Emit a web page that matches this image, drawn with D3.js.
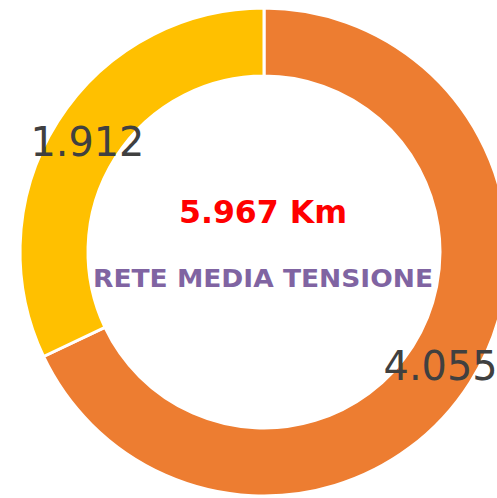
<!DOCTYPE html>
<html>
<head>
<meta charset="utf-8">
<script src="https://cdn.jsdelivr.net/npm/d3@7"></script>
<style>
  body { margin: 0; background: #fff; }
  svg { display: block; }
</style>
</head>
<body>
<svg id="chart" width="497" height="498"></svg>
<script>
// data
var labels = ["4.055", "1.912"];
var values = [4.055, 1.912];
var colors = ["#ED7D31", "#FFC000"];
var totalText = "5.967 Km";
var titleText = "RETE MEDIA TENSIONE";

var svg = d3.select("#chart");
var cx = 264, cy = 252;
var outerR = 244, innerR = 176;

var g = svg.append("g").attr("transform", "translate(" + cx + "," + cy + ")");

var pie = d3.pie().sort(null).value(function(d){ return d; });
var arc = d3.arc().innerRadius(innerR).outerRadius(outerR);
var labelArc = d3.arc().innerRadius(209).outerRadius(209);

var arcs = pie(values);

g.selectAll("path.slice").data(arcs).enter().append("path")
    .attr("class", "slice")
    .attr("d", arc)
    .attr("fill", function(d, i){ return colors[i]; })
    .attr("stroke", "#fff")
    .attr("stroke-width", 3);

// verdana-like widths: stretch dejavu a bit
g.selectAll("text.lbl").data(arcs).enter().append("text")
    .attr("class", "lbl")
    .attr("x", function(d){ return labelArc.centroid(d)[0]; })
    .attr("y", function(d){ return labelArc.centroid(d)[1] + 2; })
    .attr("text-anchor", "middle")
    .attr("dominant-baseline", "central")
    .attr("textLength", 114)
    .attr("lengthAdjust", "spacingAndGlyphs")
    .style("font-family", "DejaVu Sans, Verdana, sans-serif")
    .style("font-size", "40px")
    .attr("fill", "#404040")
    .text(function(d, i){ return labels[i]; });

g.append("text")
    .attr("x", -1).attr("y", -40)
    .attr("text-anchor", "middle")
    .attr("dominant-baseline", "central")
    .attr("textLength", 168)
    .attr("lengthAdjust", "spacingAndGlyphs")
    .style("font-family", "DejaVu Sans, Verdana, sans-serif")
    .style("font-weight", "bold")
    .style("font-size", "32px")
    .attr("fill", "#FF0000")
    .text(totalText);

g.append("text")
    .attr("x", -1).attr("y", 27)
    .attr("text-anchor", "middle")
    .attr("dominant-baseline", "central")
    .attr("textLength", 340)
    .attr("lengthAdjust", "spacingAndGlyphs")
    .style("font-family", "DejaVu Sans, Verdana, sans-serif")
    .style("font-weight", "bold")
    .style("font-size", "24px")
    .attr("fill", "#8064A2")
    .text(titleText);
</script>
</body>
</html>
